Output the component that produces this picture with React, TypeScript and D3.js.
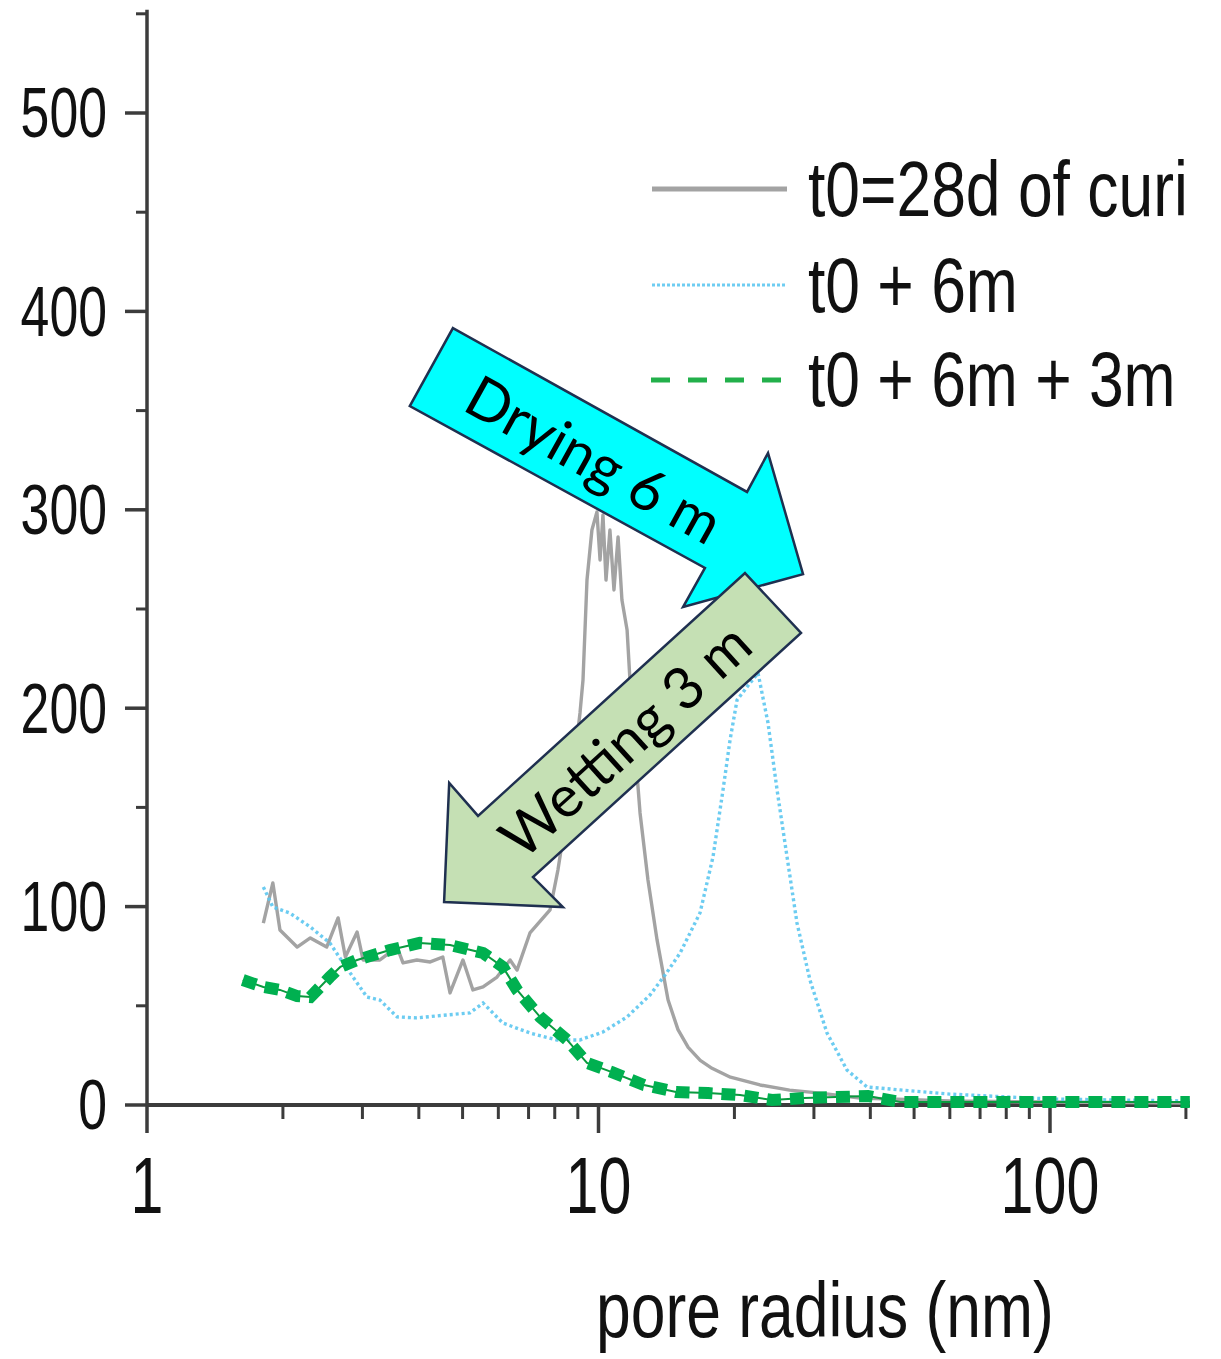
import React from "react";
import * as d3 from "d3";

// ---------- data ----------
const grayX = [1.81, 1.90, 1.97, 2.15, 2.30, 2.50, 2.65, 2.75, 2.92, 3.01, 3.28, 3.58, 3.69, 3.96, 4.24, 4.52, 4.69, 5.01, 5.27, 5.55, 5.96, 6.37, 6.60, 7.05, 7.81, 8.13, 8.74, 9.10, 9.24, 9.43, 9.67, 9.92, 10.08, 10.23, 10.39, 10.60, 10.82, 11.05, 11.27, 11.57, 11.74, 12.04, 12.36, 12.87, 13.48, 14.26, 15.0, 15.8, 16.8, 17.84, 19.6, 22.79, 26.5, 30.95, 37.95, 60.0, 100, 204];
const grayY = [91.7, 111.9, 88.2, 79.6, 84.2, 79.6, 94.3, 74.6, 87.2, 73.1, 73.1, 79.6, 71.6, 73.1, 72.1, 74.6, 56.5, 73.1, 58.0, 59.5, 64.5, 73.1, 68.0, 86.7, 98.3, 118.4, 163.8, 197.6, 214.2, 264.6, 289.8, 298.9, 274.7, 297.4, 264.6, 289.8, 259.6, 286.3, 254.5, 239.4, 214.2, 180.4, 147.2, 113.4, 83.2, 52.9, 38.0, 29.0, 22.5, 18.5, 14.0, 10.1, 7.5, 6.0, 3.5, 2.0, 1.5, 1.0];

const blueX = [1.81, 1.90, 2.07, 2.30, 2.54, 2.72, 2.92, 3.07, 3.28, 3.58, 3.96, 4.62, 5.19, 5.55, 6.14, 7.05, 8.09, 9.10, 10.23, 11.57, 13.00, 14.04, 15.16, 16.78, 17.93, 18.87, 19.56, 20.27, 21.66, 22.56, 23.74, 24.86, 26.16, 27.52, 29.40, 32.07, 35.52, 39.32, 46.54, 60.0, 100, 204];
const blueY = [109.9, 99.8, 96.8, 89.7, 81.7, 71.6, 61.5, 54.4, 52.9, 44.4, 43.9, 45.4, 46.4, 51.4, 41.3, 36.3, 32.8, 32.8, 36.8, 44.4, 55.4, 65.5, 76.6, 96.8, 125.0, 158.8, 184.0, 204.1, 212.7, 217.7, 192.5, 158.8, 125.0, 91.7, 63.0, 36.3, 17.6, 9.1, 7.6, 5.5, 3.0, 2.0];

const greenX = [1.63, 1.81, 1.97, 2.15, 2.30, 2.54, 2.68, 2.92, 3.45, 4.02, 4.69, 5.55, 6.14, 6.60, 7.42, 8.52, 9.43, 10.71, 12.61, 14.85, 17.48, 20.58, 24.23, 28.52, 33.57, 39.53, 46.54, 77.5, 204];
const greenY = [63.0, 59.5, 58.0, 54.9, 54.4, 64.5, 69.6, 73.1, 78.1, 81.7, 80.6, 76.6, 69.6, 58.0, 44.4, 32.8, 21.2, 16.6, 10.1, 6.6, 6.0, 5.0, 2.5, 3.5, 4.0, 4.5, 1.5, 1.5, 1.5];

const seriesNames = ["t0=28d of curing", "t0 + 6m", "t0 + 6m + 3m"];
const yMajorTicks = [0, 100, 200, 300, 400, 500];
const yMinorTicks = [50, 150, 250, 350, 450, 550];
const xMajorTicks = [1, 10, 100];
const xMinorTicks = [2, 3, 4, 5, 6, 7, 8, 9, 20, 30, 40, 50, 60, 70, 80, 90, 200];
const xTitle = "pore radius (nm)";

// annotation arrows, in data coordinates [pore radius, value]
const dryingArrow: [number, number][] = [[4.76, 391.6], [21.33, 309.0], [23.74, 328.6], [28.38, 267.6], [15.39, 251.0], [17.21, 270.7], [3.82, 352.3]];
const wettingArrow: [number, number][] = [[21.11, 268.1], [28.09, 237.9], [7.16, 114.9], [8.34, 99.8], [4.55, 102.3], [4.67, 162.3], [5.41, 145.7]];
const dryingLabel = { text: "Drying 6 m", x: 9.82, y: 326.1, angle: 29 };
const wettingLabel = { text: "Wetting 3 m", x: 11.39, y: 184.5, angle: -42.3 };

export default function App() {
  const W = 1221, H = 1359;
  const x = d3.scaleLog().domain([1, 100]).range([147, 1050]);
  const y = d3.scaleLinear().domain([0, 500]).range([1105, 113]);
  const axisColor = "#3c3c3c";
  const tickFont = "'Liberation Sans', Arial, sans-serif";

  const mk = (xs: number[], ys: number[]) =>
    d3.line<number>().x((_, i) => x(xs[i])).y((_, i) => y(ys[i]))(xs.map((_, i) => i)) || "";

  const grayPath = mk(grayX, grayY);
  const bluePath = mk(blueX, blueY);
  const greenPath = mk(greenX, greenY);
  const poly = (pts: [number, number][]) => pts.map(p => `${x(p[0])},${y(p[1])}`).join(" ");

  const xRight = 1190;

  return (
    <svg width={W} height={H} style={{ position: "absolute", left: 0, top: 0, background: "#fff" }}>
      <defs>
        <clipPath id="crop">
          <rect x={0} y={0} width={xRight} height={H} />
        </clipPath>
      </defs>
      <rect x={0} y={0} width={W} height={H} fill="#fff" />
      <g clipPath="url(#crop)">
        {/* y axis */}
        <line x1={x(1)} x2={x(1)} y1={y(552)} y2={y(0)} stroke={axisColor} strokeWidth={3.5} />
        {yMajorTicks.map(t => (
          <line key={"ym" + t} x1={x(1) - 22} x2={x(1)} y1={y(t)} y2={y(t)} stroke={axisColor} strokeWidth={3.5} />
        ))}
        {yMinorTicks.map(t => (
          <line key={"yn" + t} x1={x(1) - 11} x2={x(1)} y1={y(t)} y2={y(t)} stroke={axisColor} strokeWidth={3} />
        ))}
        {yMajorTicks.map(t => (
          <text key={"yl" + t} transform={`translate(107,${y(t)}) scale(0.74,1)`} textAnchor="end" dominantBaseline="central"
            fontFamily={tickFont} fontSize={70} fill="#111">{t}</text>
        ))}
        {/* x axis */}
        <line x1={x(1)} x2={xRight} y1={y(0)} y2={y(0)} stroke={axisColor} strokeWidth={4} />
        {xMajorTicks.map(t => (
          <line key={"xm" + t} x1={x(t)} x2={x(t)} y1={y(0)} y2={y(0) + 28} stroke={axisColor} strokeWidth={3.5} />
        ))}
        {xMinorTicks.map(t => (
          <line key={"xn" + t} x1={x(t)} x2={x(t)} y1={y(0)} y2={y(0) + 14} stroke={axisColor} strokeWidth={3} />
        ))}
        {xMajorTicks.map(t => (
          <text key={"xl" + t} transform={`translate(${x(t)},1213) scale(0.74,1)`} textAnchor="middle"
            fontFamily={tickFont} fontSize={80} fill="#111">{t}</text>
        ))}
        <text transform={`translate(596,1337) scale(0.8,1)`} fontFamily={tickFont} fontSize={78} fill="#111">{xTitle}</text>

        {/* data */}
        <path d={grayPath} fill="none" stroke="#a3a3a3" strokeWidth={3.4} strokeLinejoin="round" />
        <path d={bluePath} fill="none" stroke="#5cc6ef" strokeOpacity={0.9} strokeWidth={3.4} strokeDasharray="3,3" />
        <path d={greenPath} fill="none" stroke="#0a9a3e" strokeWidth={2} />
        <path d={greenPath} fill="none" stroke="#00b050" strokeWidth={12} strokeDasharray="14,9" />

        {/* legend */}
        <line x1={652} x2={787} y1={189} y2={189} stroke="#a3a3a3" strokeWidth={5} />
        <line x1={652} x2={787} y1={285} y2={285} stroke="#6fcdf2" strokeWidth={3} strokeDasharray="3,2" />
        <line x1={651} x2={787} y1={380} y2={380} stroke="#22b04b" strokeWidth={5} strokeDasharray="19,18" />
        {seriesNames.map((s, i) => (
          <text key={s} transform={`translate(808,${[216, 312, 406][i]}) scale(0.8,1)`} fontFamily={tickFont} fontSize={78} fill="#111">{s}</text>
        ))}

        {/* annotation arrows */}
        <polygon points={poly(dryingArrow)} fill="#00ffff" stroke="#1f3050" strokeWidth={2.5} strokeLinejoin="miter" />
        <text transform={`translate(${x(dryingLabel.x)},${y(dryingLabel.y)}) rotate(${dryingLabel.angle})`} textAnchor="middle"
          dominantBaseline="central" fontFamily="Lato, 'Open Sans', sans-serif" fontSize={58} fill="#000">{dryingLabel.text}</text>
        <polygon points={poly(wettingArrow)} fill="#c5e0b4" stroke="#1f3050" strokeWidth={2.5} strokeLinejoin="miter" />
        <text transform={`translate(${x(wettingLabel.x)},${y(wettingLabel.y)}) rotate(${wettingLabel.angle})`} textAnchor="middle"
          dominantBaseline="central" fontFamily="Lato, 'Open Sans', sans-serif" fontSize={58} fill="#000">{wettingLabel.text}</text>
      </g>
    </svg>
  );
}
